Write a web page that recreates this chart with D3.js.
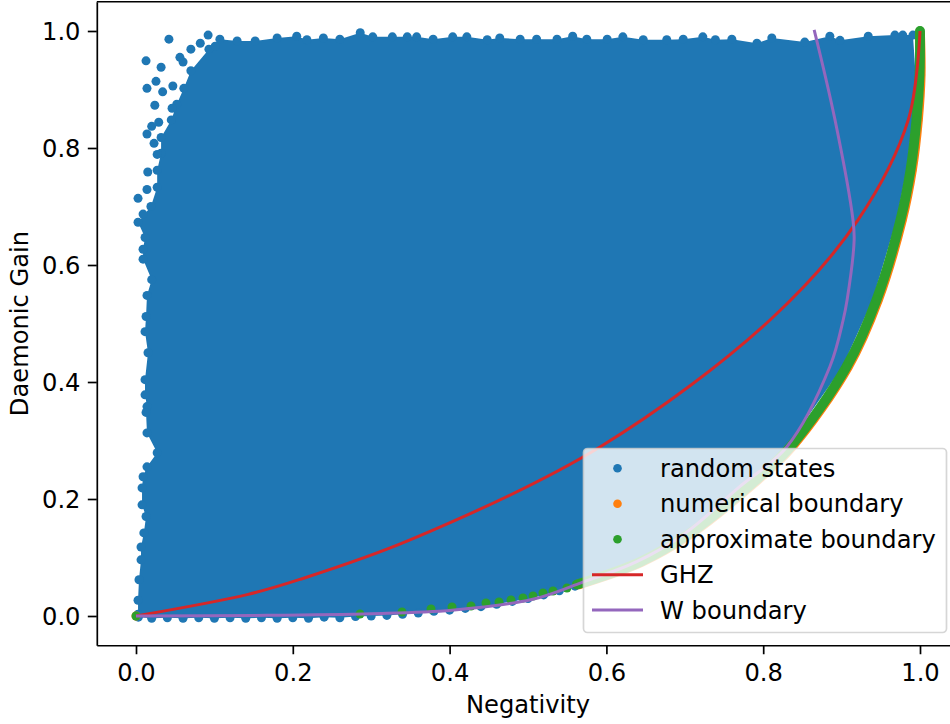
<!DOCTYPE html>
<html>
<head>
<meta charset="utf-8">
<script src="https://cdn.jsdelivr.net/npm/d3@7"></script>
<style>
  body { margin: 0; background: #fff; }
  svg { display: block; }
  text { font-family: "DejaVu Sans", sans-serif; }
</style>
</head>
<body>
<svg id="chart" width="950" height="724"></svg>
<script>
// ---- tick values and labels ----
const xTicks = [0.0, 0.2, 0.4, 0.6, 0.8, 1.0];
const yTicks = [0.0, 0.2, 0.4, 0.6, 0.8, 1.0];
const xLabel = "Negativity";
const yLabel = "Daemonic Gain";
const legendLabels = ["random states", "numerical boundary", "approximate boundary", "GHZ", "W boundary"];

// ---- random states: outline of the sampled cloud (clockwise from the origin) ----
const stateBottom = [
  [0.003,-0.002],[0.020,-0.004],[0.040,-0.003],[0.060,-0.004],[0.080,-0.003],[0.100,-0.004],
  [0.120,-0.003],[0.140,-0.004],[0.160,-0.003],[0.180,-0.004],[0.200,-0.003],[0.220,-0.004],
  [0.240,-0.002],[0.260,-0.003],[0.280,-0.001],[0.300,0.000],[0.320,0.001],[0.340,0.003],
  [0.360,0.005],[0.380,0.008],[0.400,0.010],[0.420,0.013],[0.440,0.016],[0.460,0.020],
  [0.480,0.025],[0.500,0.030],[0.520,0.036],[0.540,0.043],[0.560,0.051]
];
const stateRight = [
  [0.638,0.0925],[0.699,0.139],[0.7788,0.2243],[0.8297,0.2894],[0.9011,0.4256],
  [0.9395,0.5402],[0.9701,0.6769],[0.9829,0.7624],[0.9905,0.8479],[0.9944,0.9248]
];
const stateTop = [
  [0.991,0.993],[0.978,0.993],[0.968,0.993],[0.934,0.991],[0.898,0.984],[0.885,0.991],
  [0.853,0.981],[0.811,0.988],[0.792,0.979],[0.760,0.986],[0.739,0.985],[0.723,0.990],
  [0.698,0.986],[0.677,0.985],[0.647,0.985],[0.621,0.990],[0.601,0.986],[0.575,0.986],
  [0.557,0.991],[0.537,0.986],[0.511,0.986],[0.490,0.986],[0.464,0.988],[0.448,0.985],
  [0.422,0.990],[0.404,0.990],[0.379,0.986],[0.358,0.990],[0.346,0.990],[0.327,0.990],
  [0.302,0.990],[0.286,0.997],[0.260,0.986],[0.239,0.988],[0.218,0.985],[0.205,0.991],
  [0.180,0.988],[0.152,0.983],[0.129,0.983],[0.107,0.986]
];
const stateLeft = [
  [0.093,0.969],[0.070,0.932],[0.061,0.902],[0.052,0.875],[0.045,0.848],[0.032,0.818],
  [0.032,0.791],[0.027,0.762],[0.027,0.733],[0.019,0.700],[0.0026,0.673],[0.0115,0.647],
  [0.009,0.627],[0.009,0.610],[0.020,0.575],[0.014,0.548],[0.0128,0.512],[0.0115,0.486],
  [0.0153,0.450],[0.0115,0.404],[0.0115,0.378],[0.014,0.358],[0.0128,0.348],[0.014,0.313],
  [0.027,0.279],[0.014,0.255],[0.009,0.238],[0.0077,0.219],[0.0077,0.190],[0.0128,0.170],
  [0.010,0.142],[0.0064,0.118],[0.0064,0.096],[0.0038,0.062],[0.0026,0.027],[0.0026,0.003]
];
// isolated states in the sparse low-negativity corner
const stateOutliers = [
  [0.042,0.986],[0.092,0.993],[0.0128,0.949],[0.032,0.938],[0.0255,0.914],[0.014,0.902],
  [0.024,0.873],[0.070,0.969],[0.060,0.947],[0.034,0.896],[0.047,0.906],[0.046,0.868],
  [0.029,0.844],[0.020,0.837],[0.014,0.824],[0.023,0.808],[0.027,0.789],[0.015,0.759],
  [0.014,0.729],[0.0026,0.714],[0.009,0.687],[0.082,0.979],[0.101,0.974],[0.056,0.955]
];

// ---- numerical boundary (orange) ----
const numericalDots = [[0.0,0.0]];
const numericalCurve = [
  [0.5643,0.054],[0.6448,0.0925],[0.7058,0.139],[0.7856,0.2243],[0.8365,0.2894],
  [0.9079,0.4256],[0.9463,0.5402],[0.9769,0.6769],[0.9897,0.7624],[0.9973,0.8479],
  [1.0008,0.9248],[1.0,0.995]
];

// ---- approximate boundary (green) ----
const approxDots = [
  [0.0,0.0],[0.2857,0.0034],[0.3393,0.0068],[0.3763,0.0120],[0.4031,0.0154],[0.4273,0.0171],
  [0.4464,0.0223],[0.4630,0.0240],[0.4783,0.0274],[0.4936,0.0308],[0.5064,0.0342],
  [0.5191,0.0394],[0.5319,0.0428],[0.5497,0.0479]
];
const approxCurve = [
  [0.5625,0.054],[0.643,0.0925],[0.704,0.139],[0.7838,0.2243],[0.8347,0.2894],
  [0.9061,0.4256],[0.9445,0.5402],[0.9751,0.6769],[0.9879,0.7624],[0.9955,0.8479],
  [0.9994,0.9248],[1.0,1.0]
];

// ---- GHZ family ----
const ghzCurve = [
  [0.0,0.0],[0.143,0.037],[0.209,0.0625],[0.3495,0.130],[0.5918,0.2889],
  [0.8087,0.506],[0.921,0.677],[0.985,0.848],[1.0,1.0]
];

// ---- W boundary ----
const wCurve = [
  [0.0,0.0],[0.150,0.001],[0.300,0.004],[0.403,0.010],[0.506,0.0285],[0.570,0.058],
  [0.638,0.0925],[0.698,0.139],[0.770,0.221],[0.830,0.289],[0.885,0.426],[0.902,0.506],
  [0.907,0.540],[0.916,0.643],[0.9145,0.677],[0.8916,0.848],[0.865,1.002]
];

// ---- colours ----
const C = { blue: "#1f77b4", orange: "#ff7f0e", green: "#2ca02c", red: "#d62728", purple: "#9467bd" };

// ---- layout ----
const svg = d3.select("#chart");
const plotLeft = 96.8, plotBottom = 645.25, plotTop = 1.75, plotRight = 959.2;
const x = d3.scaleLinear().domain([-0.05, 1.05]).range([plotLeft, plotRight]);
const y = d3.scaleLinear().domain([-0.05, 1.05]).range([plotBottom, plotTop]);
const FS = 24.2;
const dotR = 4.5;

svg.append("defs").append("clipPath").attr("id", "plotClip")
  .append("rect").attr("x", plotLeft).attr("y", plotTop)
  .attr("width", plotRight - plotLeft).attr("height", plotBottom - plotTop);

const plot = svg.append("g").attr("clip-path", "url(#plotClip)");

const line = d3.line().x(d => x(d[0])).y(d => y(d[1]));
const smooth = d3.line().x(d => x(d[0])).y(d => y(d[1])).curve(d3.curveCatmullRom.alpha(0.5));

// random states: filled cloud plus the dots sitting on its rim and the loose ones
const outline = [...stateBottom, ...stateRight, ...stateTop, ...stateLeft];
plot.append("path").attr("d", line(outline) + "Z").attr("fill", C.blue);
plot.append("g").selectAll("circle").data([...outline, ...stateOutliers]).join("circle")
  .attr("cx", d => x(d[0])).attr("cy", d => y(d[1])).attr("r", dotR).attr("fill", C.blue);

// boundary series: dense runs look like a thick band of overlapping markers
function boundary(dots, curve, color) {
  const g = plot.append("g");
  g.append("path").attr("d", smooth(curve)).attr("fill", "none").attr("stroke", color)
    .attr("stroke-width", dotR * 2.2).attr("stroke-linecap", "round").attr("stroke-linejoin", "round");
  g.selectAll("circle").data([...dots, ...curve]).join("circle")
    .attr("cx", d => x(d[0])).attr("cy", d => y(d[1])).attr("r", dotR).attr("fill", color);
}
boundary(numericalDots, numericalCurve, C.orange);
boundary(approxDots, approxCurve, C.green);

plot.append("path").attr("d", smooth(ghzCurve)).attr("fill", "none")
  .attr("stroke", C.red).attr("stroke-width", 3);
plot.append("path").attr("d", smooth(wCurve)).attr("fill", "none")
  .attr("stroke", C.purple).attr("stroke-width", 3);

// ---- axes ----
const fmt = d3.format(".1f");
const xAxis = svg.append("g").attr("transform", `translate(0,${plotBottom})`)
  .call(d3.axisBottom(x).tickValues(xTicks).tickFormat(fmt).tickSize(9).tickSizeOuter(0).tickPadding(10));
const yAxis = svg.append("g").attr("transform", `translate(${plotLeft},0)`)
  .call(d3.axisLeft(y).tickValues(yTicks).tickFormat(fmt).tickSize(9).tickSizeOuter(0).tickPadding(7.3));
[xAxis, yAxis].forEach(a => {
  a.selectAll("path.domain").attr("stroke", "#000").attr("stroke-width", 1.7);
  a.selectAll(".tick line").attr("stroke", "#000").attr("stroke-width", 1.7);
  a.selectAll(".tick text").attr("fill", "#000").style("font-size", FS + "px")
    .style("font-family", '"DejaVu Sans", sans-serif');
});
yAxis.selectAll(".tick text").attr("dy", "0.37em");
// top spine
svg.append("line").attr("x1", plotLeft).attr("x2", plotRight).attr("y1", plotTop).attr("y2", plotTop)
  .attr("stroke", "#000").attr("stroke-width", 1.7);

svg.append("text").attr("x", (plotLeft + plotRight) / 2).attr("y", 713)
  .attr("text-anchor", "middle").style("font-size", FS + "px").text(xLabel);
svg.append("text").attr("transform", `translate(27.5,${(plotTop + plotBottom) / 2}) rotate(-90)`)
  .attr("text-anchor", "middle").style("font-size", FS + "px").text(yLabel);

// ---- legend ----
const lg = svg.append("g");
lg.append("rect").attr("x", 583.5).attr("y", 448.5).attr("width", 363).attr("height", 184)
  .attr("rx", 4).attr("fill", "#fff").attr("fill-opacity", 0.8)
  .attr("stroke", "#cccccc").attr("stroke-opacity", 0.8).attr("stroke-width", 1.7);
const legendColors = [C.blue, C.orange, C.green, C.red, C.purple];
const legendKind = ["dot", "dot", "dot", "line", "line"];
legendLabels.forEach((lab, i) => {
  const cy = 468.3 + i * 35.45;
  if (legendKind[i] === "dot") {
    lg.append("circle").attr("cx", 617.5).attr("cy", cy).attr("r", 4.3).attr("fill", legendColors[i]);
  } else {
    lg.append("line").attr("x1", 592).attr("x2", 643).attr("y1", cy).attr("y2", cy)
      .attr("stroke", legendColors[i]).attr("stroke-width", 3);
  }
  lg.append("text").attr("x", 660).attr("y", cy + 8.4).style("font-size", FS + "px").text(lab);
});
</script>
</body>
</html>
